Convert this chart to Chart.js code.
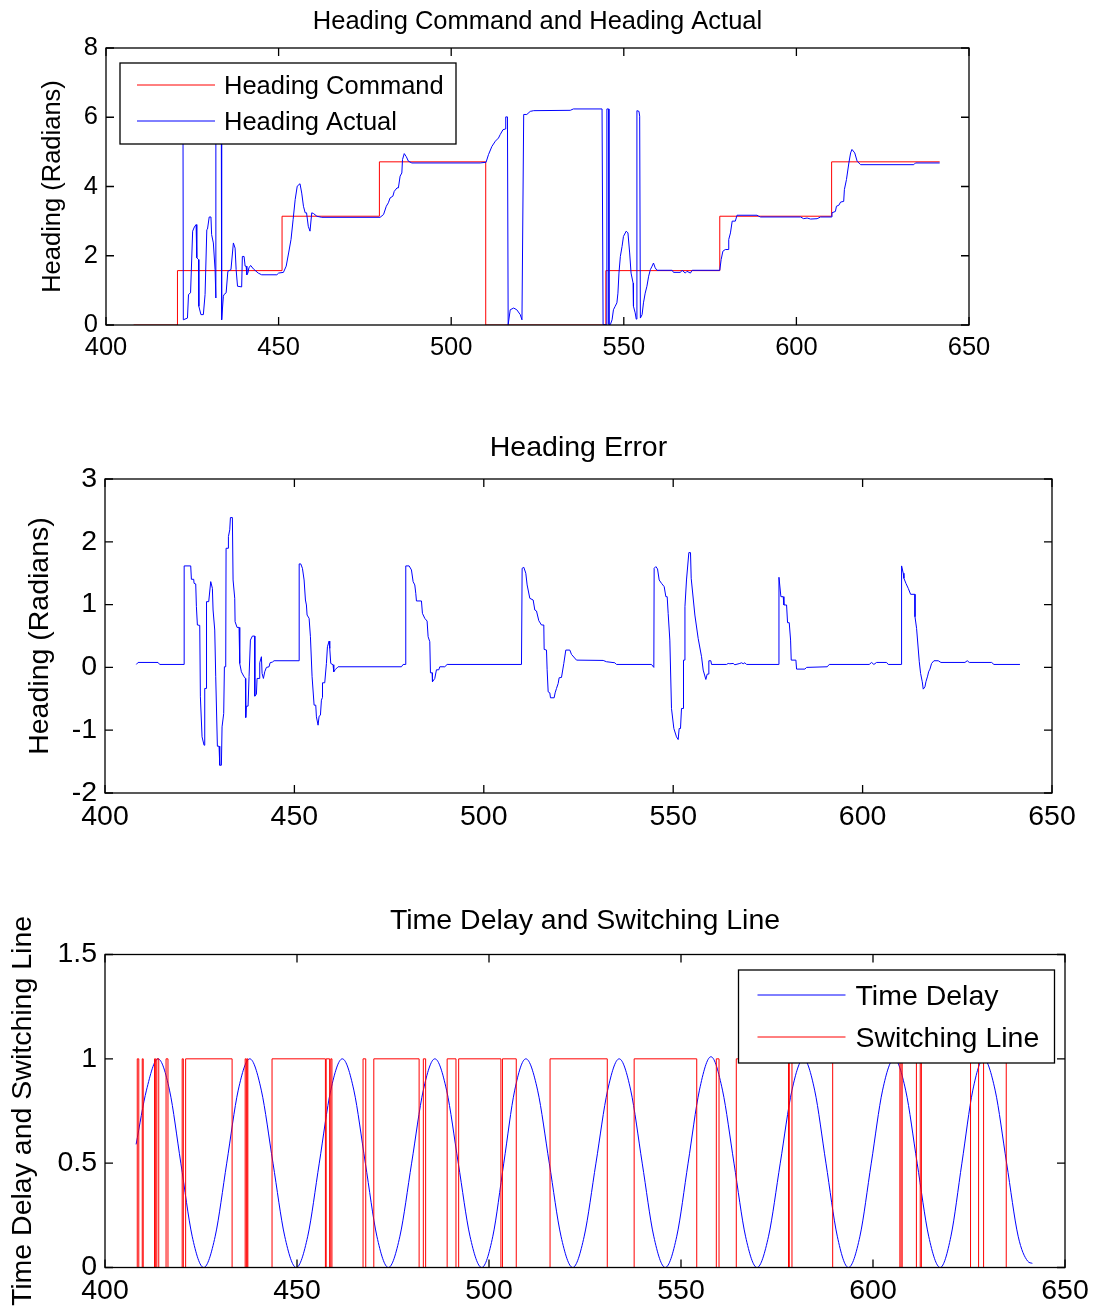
<!DOCTYPE html>
<html>
<head>
<meta charset="utf-8">
<title>Heading Command and Heading Actual</title>
<script src="https://cdn.jsdelivr.net/npm/chart.js@4.4.1/dist/chart.umd.min.js"></script>
<style>
  html, body { margin: 0; padding: 0; background: #fff; overflow: hidden; }
  body { width: 1101px; height: 1311px; position: relative; }
  canvas { position: absolute; left: 0; }
</style>
</head>
<body>
<canvas id="headingChart" width="1075" height="380" style="top:0px"></canvas>
<canvas id="errorChart" width="1157" height="460" style="top:400px"></canvas>
<canvas id="delayChart" width="1170" height="441" style="top:870px"></canvas>
<script>
// Tick labels.
const timeTicks = [400, 450, 500, 550, 600, 650];
const headingTicks = [0, 2, 4, 6, 8];
const errorTicks = [-2, -1, 0, 1, 2, 3];
const delayTicks = [0, 0.5, 1, 1.5];

// Heading command, [time, rad] (steps).
const headingCommand = [
  [408.0, 0], [420.7, 1.5708], [451.0, 3.1416], [479.2, 4.7124], [510.0, 0],
  [544.8, 1.5708], [577.8, 3.1416], [610.2, 4.7124], [641.5, 4.7124]
];

// Heading actual, [time, rad].
const headingActual = [
  [408.0, 6.22], [422.3, 6.24], [422.4, 0.15], [423.6, 0.20], [423.9, 0.88], [424.5, 0.93],
  [425.1, 2.71], [425.6, 2.83], [426.1, 2.90], [426.3, 1.94], [426.8, 1.89], [426.9, 0.54],
  [427.5, 0.30], [428.2, 0.30], [428.7, 0.88], [429.2, 2.75], [429.4, 2.77], [429.9, 3.12],
  [430.4, 3.12], [430.6, 2.61], [431.1, 2.37], [431.6, 1.60], [431.8, 0.78], [431.85, 6.24],
  [433.4, 6.24], [433.5, 0.15], [434.0, 0.83], [434.2, 0.88], [434.8, 0.93], [435.3, 1.55],
  [436.2, 1.60], [436.9, 2.37], [437.4, 2.22], [437.7, 1.60], [438.1, 1.12], [439.3, 1.10],
  [439.5, 1.98], [440.0, 1.98], [440.3, 1.70], [440.6, 1.70], [440.8, 1.45], [441.1, 1.50],
  [441.4, 1.65], [441.9, 1.72], [442.7, 1.62], [444.1, 1.50], [445.1, 1.45], [449.5, 1.45],
  [450.0, 1.50], [451.4, 1.52], [452.2, 1.70], [452.9, 2.08], [453.6, 2.47], [454.2, 3.04],
  [454.8, 3.62], [455.4, 4.01], [456.2, 4.08], [456.7, 3.81], [457.2, 3.43], [457.7, 3.24],
  [458.1, 3.24], [458.6, 2.85], [459.1, 2.71], [459.6, 3.24], [460.1, 3.22], [461.1, 3.14],
  [462.5, 3.11], [479.4, 3.11], [480.4, 3.19], [481.2, 3.43], [481.8, 3.53], [482.3, 3.67],
  [483.1, 3.72], [483.5, 3.86], [484.3, 3.96], [484.7, 3.96], [485.2, 4.30], [485.7, 4.39],
  [485.9, 4.78], [486.4, 4.95], [487.0, 4.86], [487.6, 4.73], [488.6, 4.68], [508.4, 4.68],
  [510.1, 4.70], [510.8, 4.92], [511.8, 5.16], [512.8, 5.31], [513.7, 5.40], [514.2, 5.50],
  [515.0, 5.64], [515.7, 5.66], [515.8, 6.01], [516.3, 6.01], [516.5, 0.01], [517.1, 0.44],
  [518.1, 0.49], [519.0, 0.44], [520.0, 0.30], [520.5, 0.15], [521.0, 6.08], [521.9, 6.08],
  [522.9, 6.17], [523.9, 6.19], [534.5, 6.20], [535.4, 6.24], [543.7, 6.24], [544.0, 0.01],
  [545.05, 0.01], [545.1, 6.24], [545.6, 6.24], [545.7, 0.01], [546.1, 0.01], [546.6, 0.15],
  [547.0, 0.44], [547.5, 0.54], [548.0, 0.64], [548.3, 0.92], [548.6, 1.50], [549.0, 1.98],
  [549.5, 2.27], [549.9, 2.56], [550.7, 2.71], [551.2, 2.66], [551.7, 2.08], [552.1, 1.50],
  [552.7, 1.21], [552.8, 0.54], [553.3, 0.35], [553.6, 0.17], [553.8, 6.19], [554.4, 6.17],
  [554.6, 6.03], [554.8, 0.20], [555.3, 0.30], [555.7, 0.64], [556.2, 0.92], [556.7, 1.12],
  [557.2, 1.41], [557.7, 1.60], [558.2, 1.70], [558.6, 1.79], [559.1, 1.65], [559.6, 1.58],
  [564.0, 1.58], [564.4, 1.52], [566.4, 1.52], [566.9, 1.58], [567.8, 1.50], [568.3, 1.55],
  [569.3, 1.50], [569.8, 1.58], [577.8, 1.58], [578.2, 1.89], [578.7, 2.13], [579.4, 2.18],
  [580.2, 2.18], [580.4, 2.47], [580.9, 2.66], [581.4, 3.00], [582.3, 3.00], [582.8, 3.17],
  [588.6, 3.17], [589.1, 3.14], [589.6, 3.12], [601.2, 3.12], [602.1, 3.07], [603.1, 3.09],
  [604.1, 3.06], [606.0, 3.07], [607.0, 3.12], [610.1, 3.12], [610.3, 3.24], [611.3, 3.28],
  [611.6, 3.43], [612.3, 3.46], [612.8, 3.55], [613.7, 3.57], [613.9, 3.91], [614.5, 4.20],
  [615.2, 4.68], [615.7, 4.97], [616.1, 5.07], [616.9, 4.97], [617.6, 4.73], [618.6, 4.63],
  [634.0, 4.63], [634.5, 4.68], [641.5, 4.68]
];

// Heading error, [time, rad].
const headingError = [
  [408.28, 0.047], [408.72, 0.079], [414.00, 0.079], [414.44, 0.047], [420.87, 0.047], [420.9, 1.616],
  [422.63, 1.616], [422.81, 1.403], [423.42, 1.403], [423.51, 1.339], [423.95, 1.329], [424.13, 0.967],
  [424.39, 0.675], [425.01, 0.669], [425.18, -0.468], [425.62, -1.106], [426.15, -1.239], [426.33, -0.335],
  [426.77, -0.335], [426.8, 1.047], [427.38, 1.047], [427.91, 1.366], [428.35, 1.259], [428.53, 0.914],
  [428.97, 0.595], [429.23, -0.149], [429.67, -1.255], [430.11, -1.255], [430.29, -1.558], [430.73, -1.558],
  [430.90, -0.947], [431.34, -0.734], [431.52, 0.010], [431.87, 0.010], [431.96, 1.897], [432.49, 1.897],
  [432.58, 2.083], [432.93, 2.190], [433.11, 2.386], [433.63, 2.386], [433.81, 1.392], [434.25, 1.100],
  [434.34, 0.728], [434.86, 0.637], [435.39, 0.637], [435.57, 0.063], [436.01, -0.070], [436.62, -0.139],
  [437.07, -0.176], [437.15, -0.798], [437.33, -0.617], [437.77, -0.617], [438.03, -0.149], [438.39, 0.435],
  [438.91, 0.499], [439.53, 0.499], [439.55, -0.458], [439.97, -0.426], [440.14, -0.176], [440.67, -0.176],
  [440.85, 0.074], [441.29, 0.170], [441.47, -0.096], [441.82, -0.176], [442.17, -0.070], [442.61, 0.000],
  [443.31, 0.010], [443.58, 0.074], [444.20, 0.085], [444.63, 0.106], [451.24, 0.106], [451.26, 1.648],
  [451.68, 1.648], [452.12, 1.578], [452.56, 1.392], [452.91, 1.073], [453.17, 0.994], [453.35, 0.834],
  [453.88, 0.781], [454.23, 0.489], [454.67, -0.149], [455.20, -0.601], [455.64, -0.601], [455.81, -0.787],
  [456.25, -0.920], [456.52, -0.777], [456.87, -0.761], [457.13, -0.522], [457.40, -0.479], [457.42, -0.245],
  [458.01, -0.245], [458.45, 0.063], [458.72, 0.329], [459.16, 0.419], [459.33, 0.303], [459.60, 0.063],
  [460.21, 0.042], [460.39, -0.070], [460.83, -0.032], [461.53, 0.010], [478.26, 0.010], [478.70, 0.047],
  [479.38, 0.047], [479.40, 1.616], [480.28, 1.616], [480.90, 1.552], [481.34, 1.366], [481.78, 1.313],
  [482.04, 1.180], [482.22, 1.058], [483.54, 1.058], [483.80, 0.861], [484.42, 0.781], [485.03, 0.738],
  [485.30, 0.489], [485.74, 0.409], [485.92, -0.086], [486.36, -0.086], [486.45, -0.229], [487.06, -0.176],
  [487.50, -0.038], [488.12, -0.038], [488.38, 0.010], [489.70, 0.010], [490.32, 0.047], [509.95, 0.047],
  [510.12, 1.578], [510.56, 1.594], [511.09, 1.499], [511.44, 1.313], [512.15, 1.100], [513.03, 1.073],
  [513.47, 0.914], [513.91, 0.898], [514.52, 0.744], [515.23, 0.675], [515.84, 0.675], [515.93, 0.287],
  [516.55, 0.276], [516.72, -0.038], [516.99, -0.389], [517.43, -0.405], [517.60, -0.484], [518.57, -0.484],
  [518.83, -0.405], [519.19, -0.335], [519.63, -0.256], [519.89, -0.165], [520.51, -0.160], [521.12, 0.063],
  [521.65, 0.276], [522.71, 0.276], [523.15, 0.207], [524.47, 0.116], [531.51, 0.111], [532.39, 0.090],
  [534.59, 0.074], [535.03, 0.047], [544.27, 0.047], [544.89, 0.000], [544.97, 1.578], [545.42, 1.605],
  [545.86, 1.568], [546.30, 1.392], [546.91, 1.339], [547.62, 1.286], [548.06, 1.126], [548.41, 1.126],
  [548.67, 0.861], [549.11, 0.435], [549.55, -0.654], [550.17, -0.973], [550.87, -1.106], [551.31, -1.149],
  [551.58, -0.973], [551.93, -0.973], [552.19, -0.654], [552.63, -0.654], [552.72, 0.116], [553.07, 0.116],
  [553.10, 0.967], [553.51, 1.392], [554.13, 1.828], [554.57, 1.828], [554.75, 1.419], [555.72, 0.834],
  [556.59, 0.462], [557.48, 0.170], [557.92, -0.043], [558.62, -0.192], [558.97, -0.107], [559.33, -0.107],
  [559.41, 0.106], [559.94, 0.106], [560.12, 0.047], [564.08, 0.047], [564.52, 0.063], [564.96, 0.058],
  [565.84, 0.063], [566.28, 0.042], [567.60, 0.063], [568.04, 0.074], [568.48, 0.058], [568.92, 0.074],
  [569.36, 0.047], [577.90, 0.047], [577.92, 1.435], [578.43, 1.126], [579.04, 1.126], [579.22, 0.994],
  [579.93, 0.994], [580.19, 0.712], [580.63, 0.712], [580.99, 0.435], [581.16, 0.116], [582.39, 0.116],
  [582.57, -0.027], [584.77, -0.027], [585.20, 0.000], [590.66, 0.010], [591.19, 0.047], [601.75, 0.047],
  [602.37, 0.079], [602.98, 0.047], [603.69, 0.079], [606.33, 0.079], [606.77, 0.047], [610.27, 0.047],
  [610.29, 1.616], [610.73, 1.499], [610.91, 1.419], [611.43, 1.339], [612.05, 1.259], [612.67, 1.164],
  [613.81, 1.164], [613.83, 0.807], [614.25, 0.621], [614.96, 0.090], [615.31, -0.096], [615.75, -0.229],
  [616.01, -0.346], [616.46, -0.309], [616.72, -0.229], [617.16, -0.139], [617.43, -0.070], [617.78, -0.027],
  [618.21, 0.063], [618.83, 0.106], [619.97, 0.106], [620.68, 0.079], [627.02, 0.079], [627.63, 0.106],
  [628.16, 0.079], [634.06, 0.079], [634.67, 0.047], [641.54, 0.047]
];

// Time delay, [time, value].
const timeDelay = [
  [408.1, 0.59], [410.8, 0.85], [413.8, 1], [416.8, 0.85], [419.75, 0.5], [422.7, 0.15], [425.7, 0],
  [428.7, 0.15], [431.7, 0.5], [434.7, 0.85], [437.7, 1], [440.7, 0.85], [443.75, 0.5], [446.8, 0.15],
  [449.8, 0], [452.8, 0.15], [455.8, 0.5], [458.8, 0.85], [461.8, 1], [464.8, 0.85], [467.8, 0.5],
  [470.8, 0.15], [473.8, 0], [476.8, 0.15], [479.85, 0.5], [482.9, 0.85], [485.9, 1], [488.95, 0.85],
  [492.0, 0.5], [495.05, 0.15], [498.1, 0], [501.0, 0.15], [503.85, 0.5], [506.7, 0.85], [509.6, 1],
  [512.65, 0.85], [515.7, 0.5], [518.75, 0.15], [521.8, 0], [524.8, 0.15], [527.85, 0.5], [530.9, 0.85],
  [533.9, 1], [536.9, 0.85], [539.9, 0.5], [542.9, 0.15], [545.9, 0], [548.9, 0.15], [551.85, 0.5],
  [554.8, 0.85], [557.8, 1.01], [560.8, 0.85], [563.8, 0.5], [566.8, 0.15], [569.8, 0], [572.8, 0.15],
  [575.85, 0.5], [578.9, 0.85], [581.9, 1], [584.8, 0.85], [587.75, 0.5], [590.7, 0.15], [593.6, 0],
  [596.6, 0.15], [599.55, 0.5], [602.5, 0.85], [605.5, 1], [608.5, 0.85], [611.5, 0.5], [614.5, 0.15],
  [617.5, 0], [620.3, 0.15], [623.15, 0.5], [626.0, 0.85], [628.8, 1], [631.8, 0.85], [634.8, 0.5],
  [637.8, 0.15], [640.3, 0.03], [641.5, 0.02]
];

// Switching line, [time, state] (value starts at that time).
const switchingLine = [
  [408.1, 0], [408.4, 1], [408.8, 0], [409.7, 1], [409.95, 0], [412.9, 1], [413.2, 0], [413.5, 1],
  [414.0, 0], [415.9, 1], [416.4, 0], [420.1, 1], [420.4, 0], [421.0, 1], [433.1, 0], [436.5, 1],
  [436.8, 0], [437.0, 1], [437.2, 0], [443.5, 1], [457.4, 0], [457.6, 1], [458.5, 0], [458.8, 1],
  [459.1, 0], [467.2, 1], [467.9, 0], [470.0, 1], [481.8, 0], [482.9, 1], [483.5, 0], [489.1, 1],
  [491.4, 0], [492.1, 1], [503.1, 0], [503.5, 1], [507.1, 0], [515.9, 1], [530.8, 0], [537.8, 1],
  [554.1, 0], [559.2, 1], [559.9, 0], [564.4, 1], [578.0, 0], [578.2, 1], [578.9, 0], [589.5, 1],
  [607.0, 0], [607.3, 1], [607.6, 0], [611.3, 1], [612.3, 0], [612.6, 1], [625.4, 0], [627.5, 1],
  [628.8, 0], [634.7, 1], [641.5, 1]
];

Chart.defaults.font.family = '"Liberation Sans", Arial, sans-serif';
Chart.defaults.color = '#000';

function toPoints(pairs) {
  return pairs.map(p => ({x: p[0], y: p[1]}));
}

function fixedTicks(values) {
  return function (scale) {
    scale.ticks = values.map(v => ({value: v}));
  };
}

// Box, inward ticks on all four sides and a boxed legend, like MATLAB axes.
const matlabAxes = {
  id: 'matlabAxes',
  afterDatasetsDraw(chart, args, opts) {
    const ctx = chart.ctx;
    const a = chart.chartArea;
    const xs = chart.scales.x;
    const ys = chart.scales.y;
    const len = opts.tickLength;
    ctx.save();
    ctx.strokeStyle = '#000';
    ctx.lineWidth = 1.3;
    ctx.beginPath();
    xs.ticks.forEach(t => {
      const px = xs.getPixelForValue(t.value);
      ctx.moveTo(px, a.bottom);
      ctx.lineTo(px, a.bottom - len);
      ctx.moveTo(px, a.top);
      ctx.lineTo(px, a.top + len);
    });
    ys.ticks.forEach(t => {
      const py = ys.getPixelForValue(t.value);
      ctx.moveTo(a.left, py);
      ctx.lineTo(a.left + len, py);
      ctx.moveTo(a.right, py);
      ctx.lineTo(a.right - len, py);
    });
    ctx.stroke();
    ctx.strokeRect(a.left, a.top, a.right - a.left, a.bottom - a.top);

    const lg = opts.legend;
    if (lg) {
      const bx = lg.left != null ? a.left + lg.left : a.right - lg.right - lg.width;
      const by = a.top + lg.top;
      ctx.fillStyle = '#fff';
      ctx.fillRect(bx, by, lg.width, lg.height);
      ctx.strokeRect(bx, by, lg.width, lg.height);
      ctx.font = lg.fontSize + 'px "Liberation Sans", Arial, sans-serif';
      ctx.textBaseline = 'middle';
      ctx.textAlign = 'left';
      chart.data.datasets.forEach((ds, i) => {
        const y = by + lg.rows[i];
        ctx.strokeStyle = ds.borderColor;
        ctx.lineWidth = 1;
        ctx.beginPath();
        ctx.moveTo(bx + lg.lineFrom, y);
        ctx.lineTo(bx + lg.lineTo, y);
        ctx.stroke();
        ctx.fillStyle = '#000';
        ctx.fillText(ds.label, bx + lg.textX, y + 2);
      });
    }
    ctx.restore();
  }
};

// Shared settings for one subplot.
function makeChart(id, cfg) {
  const side = cfg.side;
  return new Chart(document.getElementById(id), {
    type: 'line',
    data: {datasets: cfg.datasets},
    plugins: [matlabAxes],
    options: {
      responsive: false,
      animation: false,
      devicePixelRatio: 1,
      layout: {padding: 0},
      elements: {point: {radius: 0}, line: {borderWidth: 1}},
      plugins: {
        legend: {display: false},
        tooltip: {enabled: false},
        title: {
          display: true,
          text: cfg.title,
          font: {size: cfg.fontSize, weight: 'normal', lineHeight: 1},
          padding: {top: cfg.titleTop, bottom: cfg.titleBottom}
        },
        matlabAxes: {tickLength: 8, legend: cfg.legend}
      },
      scales: {
        x: {
          type: 'linear',
          min: 400,
          max: 650,
          grid: {display: false, drawTicks: false},
          border: {display: false},
          afterBuildTicks: fixedTicks(timeTicks),
          afterFit: s => { s.height = cfg.xHeight; },
          ticks: {
            padding: cfg.xPad,
            maxRotation: 0,
            autoSkip: false,
            font: {size: cfg.fontSize, lineHeight: 1},
            callback: v => String(v)
          }
        },
        y: {
          type: 'linear',
          min: cfg.yMin,
          max: cfg.yMax,
          grid: {display: false, drawTicks: false},
          border: {display: false},
          afterBuildTicks: fixedTicks(cfg.yTicks),
          afterFit: s => { s.width = side; },
          ticks: {
            padding: 8,
            font: {size: cfg.fontSize, lineHeight: 1},
            callback: v => String(v)
          },
          title: {
            display: true,
            text: cfg.yLabel,
            font: {size: cfg.fontSize, lineHeight: 1},
            padding: {top: cfg.yLabelPad, bottom: 0}
          }
        },
        y2: {
          type: 'linear',
          position: 'right',
          min: cfg.yMin,
          max: cfg.yMax,
          grid: {display: false, drawTicks: false},
          border: {display: false},
          ticks: {display: false},
          afterFit: s => { s.width = side; }
        }
      }
    }
  });
}

makeChart('headingChart', {
  title: 'Heading Command and Heading Actual',
  fontSize: 25.5,
  titleTop: 9, titleBottom: 13.5,
  xHeight: 55, xPad: 10,
  side: 106,
  yMin: 0, yMax: 8, yTicks: headingTicks,
  yLabel: 'Heading (Radians)', yLabelPad: 40,
  legend: {left: 14, top: 15, width: 336, height: 81, rows: [22, 58],
           lineFrom: 17, lineTo: 95, textX: 104, fontSize: 25.5},
  datasets: [
    {label: 'Heading Command', data: toPoints(headingCommand), borderColor: '#ff0000',
     stepped: true, order: 1},
    {label: 'Heading Actual', data: toPoints(headingActual), borderColor: '#0000ff', order: 0}
  ]
});

makeChart('errorChart', {
  title: 'Heading Error',
  fontSize: 28.5,
  titleTop: 34, titleBottom: 16.5,
  xHeight: 67, xPad: 10,
  side: 105,
  yMin: -2, yMax: 3, yTicks: errorTicks,
  yLabel: 'Heading (Radians)', yLabelPad: 26,
  legend: null,
  datasets: [
    {label: 'Heading Error', data: toPoints(headingError), borderColor: '#0000ff'}
  ]
});

makeChart('delayChart', {
  title: 'Time Delay and Switching Line',
  fontSize: 28.5,
  titleTop: 37, titleBottom: 19,
  xHeight: 43.5, xPad: 9,
  side: 105,
  yMin: 0, yMax: 1.5, yTicks: delayTicks,
  yLabel: 'Time Delay and Switching Line', yLabelPad: 9,
  legend: {right: 10.5, top: 15.5, width: 316, height: 93, rows: [25, 67],
           lineFrom: 19, lineTo: 107, textX: 117, fontSize: 28.5},
  datasets: [
    {label: 'Time Delay', data: toPoints(timeDelay), borderColor: '#0000ff',
     cubicInterpolationMode: 'monotone', order: 1},
    {label: 'Switching Line', data: toPoints(switchingLine), borderColor: '#ff0000',
     stepped: true, order: 0}
  ]
});
</script>
</body>
</html>
